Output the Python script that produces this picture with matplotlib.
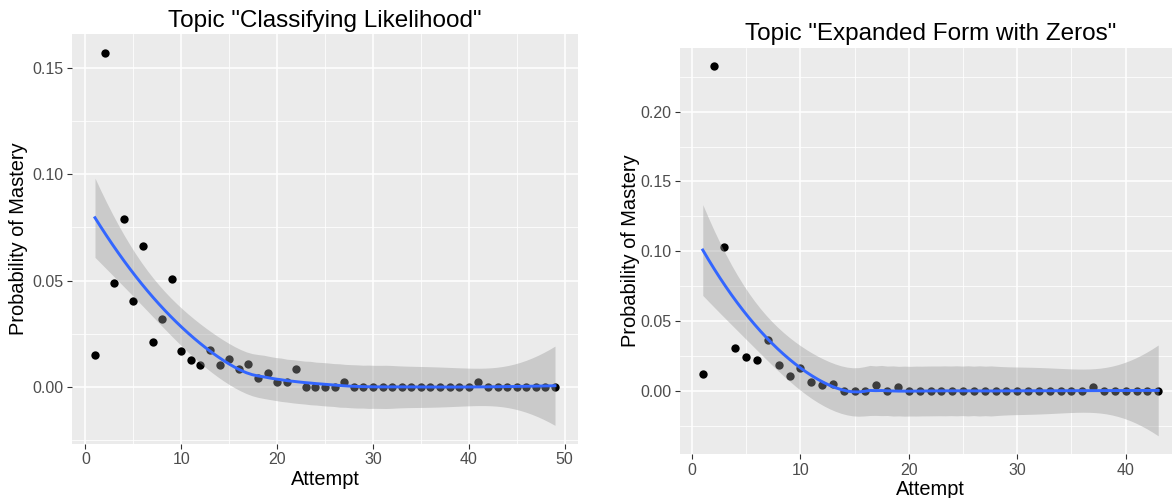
import numpy as np
import matplotlib
matplotlib.use("Agg")
import matplotlib.pyplot as plt
from matplotlib.ticker import MultipleLocator, FormatStrFormatter

plt.rcParams['font.family'] = ['Liberation Sans', 'DejaVu Sans']

# data
left_title = 'Topic "Classifying Likelihood"'
left_attempt = np.arange(1, 50)
left_prob = np.array([
    0.0148, 0.1574, 0.0489, 0.0788, 0.0402, 0.0662, 0.0212, 0.0318, 0.0509, 0.0170,
    0.0127, 0.0104, 0.0171, 0.0104, 0.0129, 0.0083, 0.0107, 0.0041, 0.0065, 0.0020,
    0.0020, 0.0085, 0.0, 0.0, 0.0, 0.0, 0.0022, 0.0, 0.0, 0.0,
    0.0, 0.0, 0.0, 0.0, 0.0, 0.0, 0.0, 0.0, 0.0, 0.0,
    0.0022, 0.0, 0.0, 0.0, 0.0, 0.0, 0.0, 0.0, 0.0])

right_title = 'Topic "Expanded Form with Zeros"'
right_attempt = np.arange(1, 44)
right_prob = np.array([
    0.0124, 0.2326, 0.1033, 0.0304, 0.0245, 0.0224, 0.0366, 0.0183, 0.0104, 0.0164,
    0.0062, 0.0045, 0.0047, 0.0, 0.0, 0.0, 0.0043, 0.0, 0.0029, 0.0,
    0.0, 0.0, 0.0, 0.0, 0.0, 0.0, 0.0, 0.0, 0.0, 0.0,
    0.0, 0.0, 0.0, 0.0, 0.0, 0.0, 0.0029, 0.0, 0.0, 0.0,
    0.0, 0.0, 0.0])


def loess_rows(x, x0s, span=0.75):
    # local quadratic loess operator rows (like R's loess defaults)
    n = len(x)
    q = int(np.floor(n * span))
    rows = []
    for x0 in x0s:
        d = np.abs(x - x0)
        h = np.sort(d)[q - 1]
        w = np.clip(1 - (d / h) ** 3, 0, None) ** 3
        X = np.column_stack([np.ones(n), x - x0, (x - x0) ** 2])
        XtW = X.T * w
        rows.append(np.linalg.solve(XtW @ X, XtW)[0])
    return np.array(rows)


def t975(df):
    z = 1.959964
    return (z + (z ** 3 + z) / (4 * df) + (5 * z ** 5 + 16 * z ** 3 + 3 * z) / (96 * df ** 2)
            + (3 * z ** 7 + 19 * z ** 5 + 17 * z ** 3 - 15 * z) / (384 * df ** 3))


def smooth(x, y):
    xs = np.linspace(x.min(), x.max(), 80)
    L = loess_rows(x.astype(float), x.astype(float))
    M = np.eye(len(x)) - L
    MM = M.T @ M
    d1 = np.trace(MM)
    d2 = np.trace(MM @ MM)
    res = y - L @ y
    s = np.sqrt(np.sum(res ** 2) / d1)
    Ls = loess_rows(x.astype(float), xs)
    fit = Ls @ y
    se = s * np.sqrt(np.sum(Ls ** 2, axis=1))
    t = t975(d1 ** 2 / d2)
    return xs, fit, fit - t * se, fit + t * se


fig = plt.figure(figsize=(11.72, 4.98), dpi=100)
W, H = 1172, 498


def panel(rect, x, y, title, xmajor, title_y, xlab_y, ylab_x, tickpad):
    l, t, r, b = rect
    ax = fig.add_axes([l / W, 1 - b / H, (r - l) / W, (b - t) / H])
    ax.set_facecolor('#EBEBEB')
    xs, fit, lo, hi = smooth(x, y)
    ax.scatter(x, y, s=36, color='black', zorder=3, linewidths=0)
    ax.fill_between(xs, lo, hi, color='#999999', alpha=0.4, lw=0, zorder=4)
    ax.plot(xs, fit, color='#3366FF', lw=2.1, zorder=5)

    xr = x.max() - x.min()
    ax.set_xlim(x.min() - 0.05 * xr, x.max() + 0.05 * xr)
    ymin = min(y.min(), lo.min())
    ymax = max(y.max(), hi.max())
    yr = ymax - ymin
    ax.set_ylim(ymin - 0.05 * yr, ymax + 0.05 * yr)

    ax.xaxis.set_major_locator(MultipleLocator(xmajor))
    ax.xaxis.set_minor_locator(MultipleLocator(xmajor / 2))
    ax.yaxis.set_major_locator(MultipleLocator(0.05))
    ax.yaxis.set_minor_locator(MultipleLocator(0.025))
    ax.yaxis.set_major_formatter(FormatStrFormatter('%.2f'))
    ax.grid(which='major', color='white', lw=1.1)
    ax.grid(which='minor', color='white', lw=0.55)
    ax.set_axisbelow(True)
    for sp in ax.spines.values():
        sp.set_visible(False)
    ax.tick_params(which='major', length=3.5, width=0.8, color='#333333',
                   labelcolor='#4D4D4D', labelsize=11.5, pad=tickpad)
    ax.tick_params(which='minor', length=0)

    cx = (l + r) / 2
    fig.text(cx / W, 1 - title_y / H, title, ha='center', va='baseline', fontsize=17.5)
    fig.text(cx / W, 1 - xlab_y / H, 'Attempt', ha='center', va='baseline', fontsize=14.4)
    fig.text(ylab_x / W, 1 - (t + b) / 2 / H, 'Probability of Mastery', rotation=90,
             ha='center', va='center', fontsize=14.4)
    return ax


panel((72, 34, 578, 444), left_attempt, left_prob, left_title, 10, 27, 485, 19, 2.5)
panel((680, 47.7, 1181, 454.3), right_attempt, right_prob, right_title, 10, 40, 495, 630, 2.5)

fig.savefig('out.png', dpi=100)
